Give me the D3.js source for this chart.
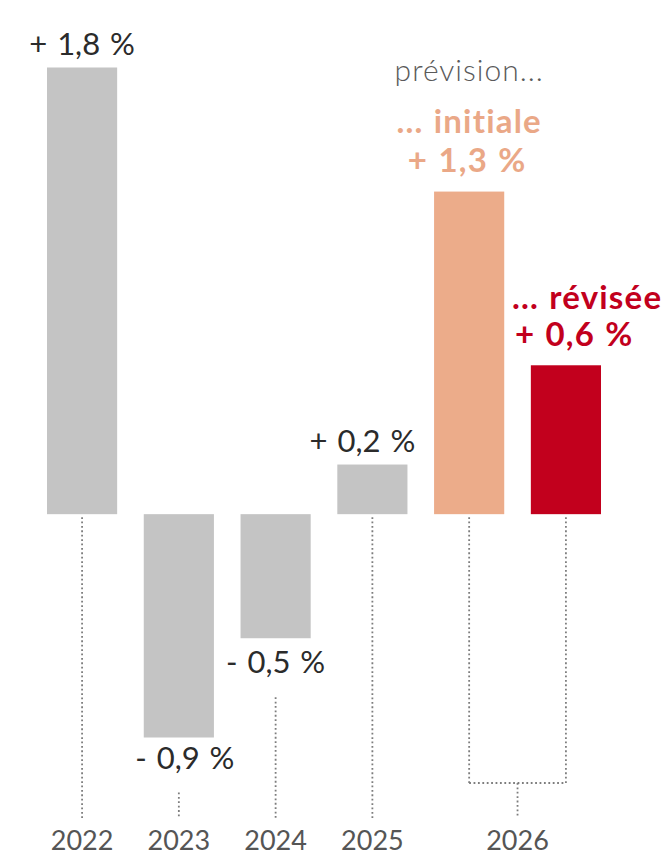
<!DOCTYPE html>
<html>
<head>
<meta charset="utf-8">
<script src="https://cdn.jsdelivr.net/npm/d3@7"></script>
<style>
  html, body { margin: 0; padding: 0; background: #fff; }
  svg { display: block; }
  text { font-family: Lato, "Open Sans", sans-serif; }
</style>
</head>
<body>
<svg id="chart" width="664" height="857"></svg>
<script>
// ---- data ----
const categories = ["2022", "2023", "2024", "2025", "2026a", "2026b"];
const values = [1.8, -0.9, -0.5, 0.2, 1.3, 0.6];
const valueLabels = ["+ 1,8 %", "- 0,9 %", "- 0,5 %", "+ 0,2 %", "+ 1,3 %", "+ 0,6 %"];
const yearLabels = ["2022", "2023", "2024", "2025", "2026"];
const forecastTitle = "prévision...";
const forecastNames = ["... initiale", "... révisée"];

// ---- layout ----
const svg = d3.select("#chart");
const x = d3.scaleBand().domain(categories).range([47, 601]).paddingInner(0.275).paddingOuter(0);
const y = d3.scaleLinear().domain([-0.9, 1.8]).range([737.5, 67.5]);
const y0 = y(0);

const colors = ["#c4c4c4", "#c4c4c4", "#c4c4c4", "#c4c4c4", "#ecac8a", "#c2001d"];
const textColors = ["#2b2b2b", "#2b2b2b", "#2b2b2b", "#2b2b2b", "#eaa887", "#c2001d"];
const dotStyle = { stroke: "#7d7d7d", width: 1.8, dash: "1.8,2.6" };

const cx = c => x(c) + x.bandwidth() / 2;
const yearLineBottom = 818;
const bracketY = 783;

// bars
svg.append("g").selectAll("rect").data(categories).join("rect")
  .attr("x", d => x(d))
  .attr("width", x.bandwidth())
  .attr("y", (d, i) => Math.min(y(values[i]), y0))
  .attr("height", (d, i) => Math.abs(y(values[i]) - y0))
  .attr("fill", (d, i) => colors[i]);

// value labels
const labelCfg = [
  { dx: 0, dy: -13, anchor: "middle", size: 31, weight: 400, ws: 2, ls: 0 },
  { dx: 6, dy: 31, anchor: "middle", size: 31, weight: 400, ws: 2, ls: 0 },
  { dx: 0, dy: 35, anchor: "middle", size: 31, weight: 400, ws: 2, ls: 0 },
  { dx: -10, dy: -13, anchor: "middle", size: 31, weight: 400, ws: 2, ls: 0 },
  { dx: -2, dy: -20, anchor: "middle", size: 33, weight: 700, ws: 1, ls: 1.2 },
  { dx: -51, dy: -19, anchor: "start", size: 33, weight: 700, ws: 1, ls: 1.2 }
];
const labelBase = [];
categories.forEach((c, i) => {
  const cfg = labelCfg[i];
  const yy = y(values[i]) + cfg.dy;
  svg.append("text")
    .attr("x", cx(c) + cfg.dx).attr("y", yy)
    .attr("text-anchor", cfg.anchor)
    .attr("font-size", cfg.size)
    .attr("font-weight", cfg.weight)
    .attr("word-spacing", cfg.ws)
    .attr("letter-spacing", cfg.ls)
    .attr("fill", textColors[i])
    .text(valueLabels[i]);
  labelBase[i] = yy;
});

// forecast names
svg.append("text")
  .attr("x", cx("2026a")).attr("y", y(values[4]) - 59)
  .attr("text-anchor", "middle").attr("font-size", 33).attr("font-weight", 700)
  .attr("word-spacing", 1).attr("letter-spacing", 1.2)
  .attr("fill", textColors[4]).text(forecastNames[0]);
svg.append("text")
  .attr("x", cx("2026b") - 54).attr("y", y(values[5]) - 56)
  .attr("text-anchor", "start").attr("font-size", 33).attr("font-weight", 700)
  .attr("word-spacing", 1).attr("letter-spacing", 1.2)
  .attr("fill", textColors[5]).text(forecastNames[1]);
svg.append("text")
  .attr("x", cx("2026a")).attr("y", y(values[4]) - 111)
  .attr("text-anchor", "middle").attr("font-size", 30).attr("font-weight", 300)
  .attr("letter-spacing", 1)
  .attr("fill", "#5a5a5a").text(forecastTitle);

// dotted leader lines
const dots = svg.append("g")
  .attr("stroke", dotStyle.stroke)
  .attr("stroke-width", dotStyle.width)
  .attr("stroke-dasharray", dotStyle.dash)
  .attr("fill", "none");
categories.forEach((c, i) => {
  const top = values[i] >= 0 ? y0 + 3 : labelBase[i] + 24;
  const bottom = c.startsWith("2026") ? bracketY : yearLineBottom;
  dots.append("line").attr("x1", cx(c)).attr("x2", cx(c)).attr("y1", top).attr("y2", bottom);
});
const mid2026 = (cx("2026a") + cx("2026b")) / 2;
dots.append("line").attr("x1", cx("2026a")).attr("x2", cx("2026b")).attr("y1", bracketY).attr("y2", bracketY);
dots.append("line").attr("x1", mid2026).attr("x2", mid2026).attr("y1", bracketY).attr("y2", yearLineBottom);

// year labels
const yearX = [cx("2022"), cx("2023"), cx("2024"), cx("2025"), mid2026];
svg.append("g").selectAll("text").data(yearLabels).join("text")
  .attr("x", (d, i) => yearX[i])
  .attr("y", 850)
  .attr("text-anchor", "middle")
  .attr("font-size", 27)
  .attr("fill", "#555")
  .text(d => d);
</script>
</body>
</html>
